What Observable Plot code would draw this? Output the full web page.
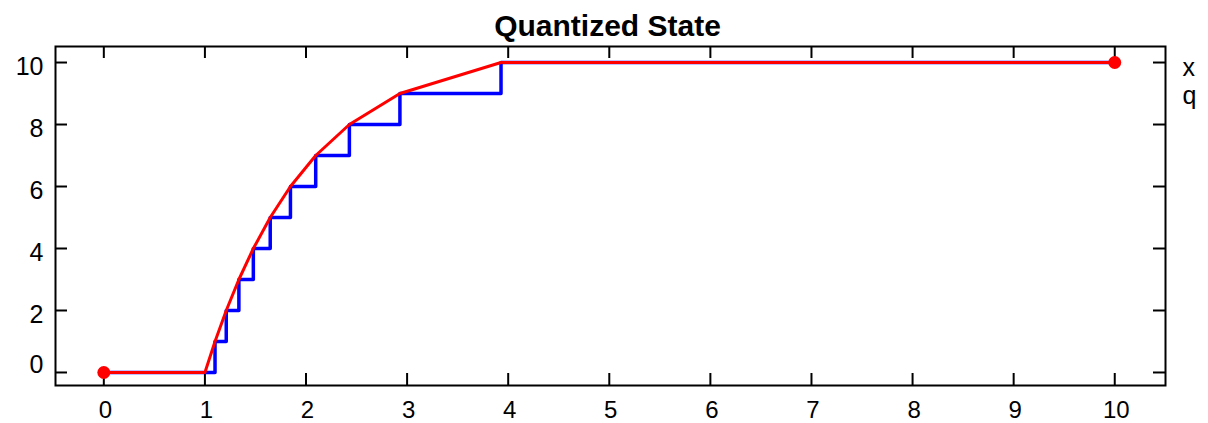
<!DOCTYPE html>
<html>
<head>
<meta charset="utf-8">
<script src="https://cdn.jsdelivr.net/npm/d3@7"></script>
<script src="https://cdn.jsdelivr.net/npm/@observablehq/plot@0.6"></script>
<style>
  html, body { margin: 0; padding: 0; background: #fff; }
  svg { display: block; }
</style>
</head>
<body>
<div id="chart"></div>
<script>
// Times at which the state reaches each integer level
const xTimes  = [0, 1, 1.1, 1.211, 1.336, 1.479, 1.646, 1.846, 2.096, 2.429, 2.929, 3.929, 10];
const xValues = [0, 0, 1,   2,     3,     4,     5,     6,     7,     8,     9,     10,    10];
// Quantized state: step changes
const qTimes  = [0, 1.1, 1.211, 1.336, 1.479, 1.646, 1.846, 2.096, 2.429, 2.929, 3.929, 10];
const qValues = [0, 1,   2,     3,     4,     5,     6,     7,     8,     9,     10,    10];
// End markers
const markerTimes  = [0, 10];
const markerValues = [0, 10];
const xTicks = [0, 1, 2, 3, 4, 5, 6, 7, 8, 9, 10];
const yTicks = [0, 2, 4, 6, 8, 10];
const legendLabels = ["x", "q"];
const title = "Quantized State";

const xData = xTimes.map((t, i) => ({t, v: xValues[i]}));
const qData = qTimes.map((t, i) => ({t, v: qValues[i]}));
const mData = markerTimes.map((t, i) => ({t, v: markerValues[i]}));

const W = 1208, H = 423;
const mL = 55, mR = 43, mT = 46, mB = 38;
const fw = W - mL - mR, fh = H - mT - mB;
const tl = 12;
const font = "'Liberation Sans', Arial, Helvetica, sans-serif";

const chart = Plot.plot({
  width: W,
  height: H,
  marginLeft: mL, marginRight: mR, marginTop: mT, marginBottom: mB,
  style: {fontFamily: font, background: "#fff", color: "#000"},
  x: {domain: [-0.478, 10.502]},
  y: {domain: [-0.42, 10.517]},
  marks: [
    // tick marks (inward, on all four sides)
    Plot.tickY(yTicks, {y: d => d, insetRight: fw - tl, stroke: "#000", strokeWidth: 2}),
    Plot.tickY(yTicks, {y: d => d, insetLeft: fw - tl, stroke: "#000", strokeWidth: 2}),
    Plot.tickX(xTicks, {x: d => d, insetTop: fh - tl, stroke: "#000", strokeWidth: 2}),
    Plot.tickX(xTicks, {x: d => d, insetBottom: fh - tl, stroke: "#000", strokeWidth: 2}),
    // axis labels
    Plot.axisY(yTicks.filter(d => d !== 0), {tickSize: 0, tickPadding: 12, dy: 4.5, fontSize: 25, label: null}),
    Plot.axisY([0], {tickSize: 0, tickPadding: 12, dy: -7.5, fontSize: 25, label: null}),
    Plot.axisX(xTicks, {tickSize: 0, tickPadding: 15, dx: 1.5, fontSize: 24, label: null}),
    // data
    Plot.line(qData, {x: "t", y: "v", curve: "step-after", stroke: "#0000ff", strokeWidth: 3.5}),
    Plot.line(xData, {x: "t", y: "v", stroke: "#ff0000", strokeWidth: 3}),
    Plot.dot(mData, {x: "t", y: "v", r: 6.5, fill: "#ff0000", stroke: "none"}),
    Plot.frame({stroke: "#000", strokeWidth: 2}),
    // title
    Plot.text([title], {frameAnchor: "top", dy: -11, dx: -3, lineAnchor: "bottom", fontSize: 30, fontWeight: "bold", fill: "#000"}),
    // legend
    Plot.text(legendLabels.slice(0, 1), {frameAnchor: "top-right", textAnchor: "start", lineAnchor: "bottom", dx: 17, dy: 29, fontSize: 25, fill: "#000"}),
    Plot.text(legendLabels.slice(1, 2), {frameAnchor: "top-right", textAnchor: "start", lineAnchor: "bottom", dx: 17, dy: 57, fontSize: 25, fill: "#000"})
  ]
});
document.getElementById("chart").appendChild(chart);
</script>
</body>
</html>
